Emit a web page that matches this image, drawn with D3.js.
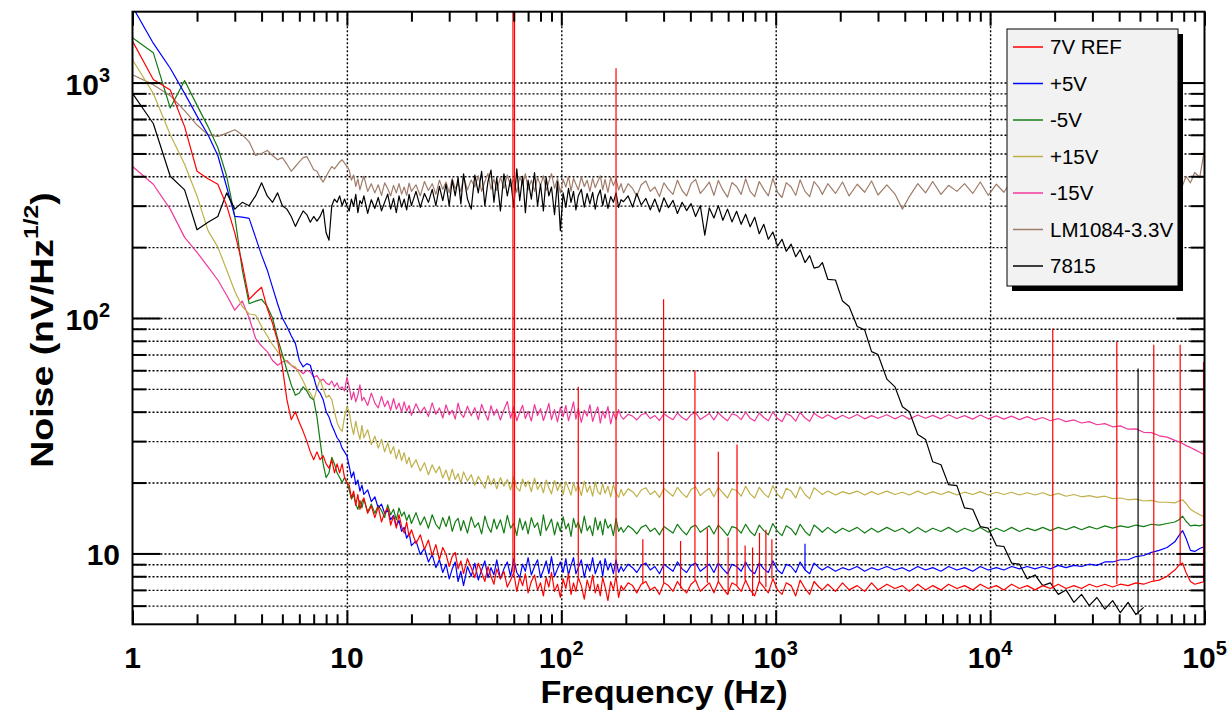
<!DOCTYPE html>
<html lang="en">
<head>
<meta charset="UTF-8">
<title>Supply noise spectra</title>
<style>
  body { margin: 0; background: #fff; }
  svg { display: block; font-family: "Liberation Sans", Arial, sans-serif; }
  .grid line { stroke: #000; stroke-width: 1.4; stroke-dasharray: 2, 2; }
  .grid path { display: none; }
  .ticks line { stroke: #000; stroke-width: 2; }
  .ticks path { display: none; }
  .trace { fill: none; stroke-width: 1.2; stroke-linejoin: round; }
  .lab { font-weight: bold; fill: #000; }
</style>
</head>
<body>
<script src="https://d3js.org/d3.v7.min.js"></script>
<script>
// frequency grid (Hz): 1-10, 10-190, 190-1600, 1600-1e5
const freqHz = [
  1, 1.25, 1.5, 1.75, 2, 2.25, 2.5, 2.75, 3, 3.25, 3.5, 3.75, 4, 4.25, 4.5, 4.75, 5, 5.25, 5.5, 5.75,
  6, 6.25, 6.5, 6.75, 7, 7.25, 7.5, 7.75, 8, 8.25, 8.5, 8.75, 9, 9.25, 9.5, 9.75, 10,
  10.25, 10.5, 10.75, 11, 11.25, 11.5, 11.75, 12, 12.5, 13,
  13.5, 14, 14.5, 15, 15.5, 16, 16.5, 17, 17.5, 18,
  18.5, 19, 19.5, 20, 21, 22, 23, 24, 25, 26,
  27, 28, 29, 30, 31, 32, 33, 34, 35, 36.5,
  38, 39.5, 41, 42.5, 44, 45.5, 47, 48.5, 50, 52,
  54, 56, 58, 60, 62, 64, 66, 68, 70, 72.5,
  75, 77.5, 80, 82.5, 85, 87.5, 90, 93, 96, 99,
  102, 105, 108, 111, 114, 117, 120, 124, 128, 132,
  136, 140, 144, 148, 152, 156, 160, 165, 170, 175,
  180, 185, 190,
  195, 205, 215, 225, 236, 248, 260, 273, 287, 301,
  316, 332, 348, 366, 384, 403, 423, 445, 467, 490,
  515, 540, 567, 596, 625, 657, 690, 724, 760, 798,
  838, 880, 924, 970, 1020, 1070, 1120, 1180, 1240, 1300,
  1370, 1440, 1510, 1590,
  1650, 1750, 1900, 2050, 2200, 2400, 2600, 2800, 3000, 3300, 3600, 3900, 4200, 4600, 5000, 5400, 5900, 6400, 7000, 7600,
  8300, 9000, 9800, 10700, 11600, 12600, 13700, 14900, 16200, 17600, 19100, 20800, 22600, 24600, 26700, 29000, 31500, 34300, 37300, 40500,
  44000, 47900, 52000, 56600, 61500, 66900, 72700, 76000, 79000, 82000, 86000, 90000, 95000, 100000
];

// noise values, nV/sqrt(Hz)
const ref7V = [
  1500, 1030, 930, 650, 420, 390, 370, 300, 230, 170, 120, 128, 135, 110, 95, 80, 62, 45, 37, 40,
  36, 33, 30, 27, 25, 27, 25, 26, 24, 23, 25, 22, 24, 22, 24, 21, 20,
  19.5, 17.2, 18.4, 16.0, 17.8, 15.4, 16.6, 17.2, 14.8, 15.9,
  14.2, 15.8, 13.6, 14.9, 15.6, 13.2, 14.4, 12.8, 14.6, 13.0,
  12.2, 13.6, 11.8, 12.6, 11.0, 12.0, 10.4, 11.4, 9.8, 10.9,
  9.4, 10.6, 9.9, 8.8, 9.7, 10.1, 8.6, 9.3, 8.2, 9.5,
  8.7, 7.9, 9.1, 8.3, 7.6, 8.8, 8.0, 7.4, 8.6, 7.8,
  8.4, 7.2, 7.7, 8.3, 6.9, 7.9, 7.3, 8.2, 6.8, 7.6,
  8.1, 7.0, 7.5, 6.6, 7.9, 7.2, 8.3, 6.9, 7.4, 6.5,
  7.8, 7.1, 8.2, 6.7, 7.5, 6.9, 7.9, 7.3, 6.4, 7.7,
  7.0, 8.1, 6.8, 7.4, 6.6, 7.9, 7.2, 6.3, 7.6, 7.0,
  8.0, 6.5, 7.3,
  7.0, 7.5, 7.3, 6.8, 7.4, 7.6, 7.0, 7.2, 6.7, 7.5,
  7.3, 6.9, 7.6, 7.1, 6.8, 7.4, 7.7, 6.9, 7.2, 7.5,
  6.8, 7.6, 7.1, 6.7, 7.5, 7.3, 6.9, 7.7, 7.0, 6.6,
  7.6, 7.2, 6.8, 7.8, 7.0, 6.7, 7.5, 7.3, 6.6, 7.7,
  7.1, 6.7, 7.6, 7.2,
  7.0, 7.4, 6.9, 7.5, 7.0, 7.3, 6.9, 7.5, 7.0, 7.4, 7.1, 7.3, 6.9, 7.4, 7.0, 7.3, 7.0, 7.4, 7.1, 7.3,
  7.0, 7.4, 7.1, 7.3, 7.0, 7.4, 7.1, 7.3, 7.0, 7.3, 7.1, 7.4, 7.1, 7.3, 7.1, 7.4, 7.2, 7.4, 7.2, 7.4,
  7.3, 7.5, 7.4, 7.6, 7.7, 8.0, 8.5, 8.9, 9.1, 8.3, 7.6, 7.4, 7.5, 7.6
];
const pos5V = [
  2100, 1470, 1150, 900, 720, 600, 490, 360, 270, 268, 265, 220, 185, 160, 135, 115, 100, 92, 84, 78,
  66, 62, 64, 63, 56, 50, 48, 45, 40, 38, 35, 33, 31, 30, 28, 27, 26,
  23.5, 21.0, 22.2, 19.6, 20.5, 18.4, 19.5, 17.8, 18.6, 16.6,
  17.4, 15.6, 16.2, 14.8, 15.3, 13.9, 14.5, 13.1, 13.8, 12.4,
  12.9, 11.6, 12.2, 10.8, 11.3, 9.9, 10.5, 9.2, 9.9, 8.7,
  9.4, 8.3, 9.0, 7.8, 8.6, 9.2, 7.6, 8.4, 7.3, 8.8,
  8.0, 9.1, 7.7, 8.5, 9.3, 7.9, 8.7, 8.1, 9.4, 7.8,
  8.6, 9.2, 8.0, 9.5, 8.3, 7.9, 9.0, 8.4, 9.6, 8.1,
  8.8, 9.4, 7.9, 8.5, 9.3, 8.2, 9.7, 8.0, 8.6, 9.2,
  8.3, 9.5, 8.1, 8.9, 9.6, 8.2, 8.7, 9.4, 7.9, 9.0,
  8.4, 9.6, 8.2, 8.8, 9.3, 8.0, 9.5, 8.5, 9.1, 8.2,
  9.4, 8.3, 8.8,
  8.4, 9.0, 8.7, 8.3, 8.9, 9.1, 8.5, 8.8, 8.2, 9.0,
  8.7, 8.4, 9.2, 8.6, 8.3, 8.9, 9.1, 8.4, 8.7, 9.0,
  8.3, 9.1, 8.6, 8.2, 9.0, 8.8, 8.4, 9.2, 8.5, 8.2,
  9.1, 8.6, 8.3, 9.3, 8.5, 8.2, 9.0, 8.8, 8.3, 9.2,
  8.5, 8.2, 9.1, 8.7,
  8.5, 8.8, 8.4, 8.7, 8.5, 8.8, 8.4, 8.7, 8.5, 8.8, 8.5, 8.7, 8.4, 8.8, 8.5, 8.7, 8.4, 8.8, 8.5, 8.7,
  8.4, 8.8, 8.5, 8.7, 8.5, 8.8, 8.6, 8.8, 8.6, 8.8, 8.6, 8.9, 8.7, 8.9, 8.8, 9.0, 8.9, 9.2, 9.2, 9.4,
  9.4, 9.7, 9.8, 10.1, 10.3, 10.6, 11.2, 11.9, 12.5, 11.6, 10.3, 10.2, 10.5, 10.7
];
const neg5V = [
  1550, 1340, 780, 1020, 800, 650, 530, 400, 270, 160, 115, 118, 120, 112, 100, 82, 70, 60, 52, 47,
  48, 51, 49, 46, 45, 38, 30, 24, 21, 22, 25.6, 24, 22, 21, 20, 21, 20,
  18.6, 17.0, 17.8, 16.2, 15.4, 16.8, 15.6, 17.0, 15.0, 16.2,
  14.8, 16.0, 15.2, 14.2, 16.1, 14.6, 15.4, 13.9, 15.6, 14.4,
  15.0, 13.8, 14.6, 13.4, 14.9, 13.2, 14.3, 12.8, 14.6, 13.3,
  12.7, 14.2, 13.0, 14.4, 12.4, 13.6, 14.1, 12.5, 13.8, 12.2,
  14.3, 12.9, 13.5, 12.1, 14.4, 13.0, 12.3, 14.0, 12.7, 13.9,
  12.2, 14.5, 12.8, 13.4, 11.9, 14.1, 12.6, 13.7, 12.1, 14.2,
  12.9, 13.5, 11.9, 14.6, 12.5, 13.2, 14.0, 12.0, 13.6, 12.4,
  14.3, 12.7, 13.4, 11.8, 14.1, 12.9, 13.6, 12.2, 14.4, 12.5,
  13.1, 11.9, 14.2, 12.6, 13.7, 12.0, 14.0, 12.8, 13.3, 11.9,
  14.1, 12.4, 12.9,
  12.3, 13.1, 12.7, 12.1, 12.9, 13.2, 12.4, 12.8, 12.0, 13.0,
  12.6, 12.2, 13.3, 12.5, 12.0, 12.9, 13.2, 12.3, 12.7, 13.1,
  12.1, 13.2, 12.6, 11.9, 13.0, 12.8, 12.2, 13.3, 12.4, 11.9,
  13.2, 12.5, 12.0, 13.4, 12.4, 11.9, 13.1, 12.7, 12.0, 13.3,
  12.4, 11.9, 13.2, 12.7,
  12.3, 12.9, 12.2, 12.8, 12.4, 12.9, 12.2, 12.8, 12.3, 12.9, 12.4, 12.8, 12.2, 12.9, 12.3, 12.8, 12.4, 12.9, 12.3, 12.8,
  12.4, 12.9, 12.3, 12.8, 12.4, 12.9, 12.4, 12.8, 12.5, 12.9, 12.5, 12.9, 12.6, 13.0, 12.6, 13.0, 12.7, 13.1, 12.8, 13.1,
  12.9, 13.2, 13.0, 13.3, 13.2, 13.4, 13.6, 13.9, 14.4, 13.7, 13.1, 13.2, 13.1, 13.3
];
const pos15V = [
  1250, 900, 600, 450, 330, 235, 200, 160, 130, 112, 104, 103, 92, 84, 77, 72, 68, 65, 63, 62,
  58, 54, 50, 48, 45, 50, 55, 50, 46, 47, 45, 40, 36, 34, 33, 38, 42,
  40, 35, 32, 36.5, 33, 30.5, 35, 31, 33.5, 29,
  31.5, 28, 30.5, 27, 29.5, 26.5, 28.5, 25.2, 27.6, 24.8,
  26.8, 24.0, 25.6, 23.2, 25.0, 22.4, 24.3, 21.6, 23.8, 22.0,
  23.4, 20.9, 22.6, 20.4, 22.8, 20.6, 21.8, 19.9, 22.2, 20.3,
  21.6, 19.5, 21.2, 20.1, 18.9, 21.4, 19.6, 20.8, 18.8, 21.0,
  19.3, 20.6, 18.6, 21.2, 19.0, 18.4, 20.7, 19.2, 20.3, 18.3,
  20.9, 18.7, 19.8, 18.1, 20.5, 19.0, 17.9, 20.4, 18.5, 19.9,
  17.8, 20.2, 18.9, 17.7, 20.0, 18.4, 19.6, 17.6, 20.3, 18.2,
  19.4, 17.5, 20.1, 18.3, 17.8, 19.8, 18.0, 19.3, 17.4, 19.6,
  18.1, 17.3, 18.7,
  17.6, 18.8, 18.3, 17.4, 18.6, 19.0, 17.8, 18.4, 17.3, 18.9,
  18.2, 17.5, 19.1, 18.0, 17.3, 18.7, 19.2, 17.6, 18.3, 18.9,
  17.4, 19.1, 18.1, 17.2, 18.8, 18.5, 17.5, 19.3, 17.9, 17.2,
  19.1, 18.0, 17.3, 19.4, 17.8, 17.1, 18.9, 18.4, 17.2, 19.2,
  17.8, 17.1, 19.0, 18.3,
  17.8, 18.4, 17.7, 18.3, 17.9, 18.4, 17.7, 18.3, 17.8, 18.4, 17.8, 18.2, 17.7, 18.4, 17.8, 18.3, 17.8, 18.3, 17.7, 18.2,
  17.8, 18.3, 17.7, 18.2, 17.8, 18.2, 17.7, 18.1, 17.7, 18.1, 17.6, 18.0, 17.5, 17.8, 17.4, 17.6, 17.3, 17.5, 17.1, 17.2,
  16.9, 17.0, 16.7, 16.8, 16.5, 16.5, 16.4, 16.7, 16.9, 16.3, 15.4, 15.0, 14.6, 14.3
];
const neg15V = [
  440, 370, 290, 220, 190, 165, 145, 125, 108, 118, 100, 82, 76, 72, 66, 63, 65, 66, 63, 61,
  60, 58, 60, 59, 56, 57, 54, 55, 53, 52, 54, 51, 53, 50, 51, 49, 56,
  51, 45, 48.5, 44, 47, 52, 44.5, 46, 42.5, 48,
  43.5, 41.5, 46.5, 42.0, 44.5, 40.5, 45.5, 41.0, 43.5, 39.8,
  44.0, 40.2, 42.5, 38.6, 43.2, 39.5, 41.8, 38.2, 43.6, 39.0,
  41.5, 37.6, 42.8, 38.8, 40.6, 37.2, 43.5, 39.2, 37.8, 42.2,
  38.4, 41.6, 37.0, 43.0, 39.5, 36.8, 42.4, 38.6, 41.0, 36.9,
  40.8, 44.2, 37.5, 41.9, 36.6, 39.8, 42.6, 37.4, 40.2, 36.5,
  42.9, 38.5, 41.2, 36.7, 39.6, 43.4, 37.0, 40.8, 36.2, 41.7,
  38.1, 42.5, 36.6, 39.9, 44.0, 37.2, 41.3, 36.0, 40.6, 38.3,
  42.8, 36.4, 39.4, 41.9, 35.8, 40.2, 37.6, 42.0, 35.5, 39.6,
  37.0, 40.8, 38.2,
  37.2, 39.0, 38.3, 36.9, 38.8, 39.4, 37.4, 38.5, 36.7, 39.2,
  38.0, 37.0, 39.5, 37.8, 36.8, 38.9, 39.6, 37.1, 38.2, 39.3,
  36.9, 39.6, 37.9, 36.6, 39.2, 38.6, 37.0, 39.8, 37.5, 36.5,
  39.5, 37.8, 36.6, 39.9, 37.4, 36.3, 39.3, 38.4, 36.5, 39.7,
  37.6, 36.4, 39.4, 38.1,
  37.5, 38.8, 37.2, 38.6, 37.4, 38.9, 37.3, 38.5, 37.5, 38.8, 37.3, 38.6, 37.2, 38.7, 37.5, 38.6, 37.3, 38.8, 37.4, 38.5,
  37.2, 38.7, 37.3, 38.4, 37.2, 38.3, 37.0, 38.1, 36.9, 37.8, 36.6, 37.4, 36.3, 36.9, 35.8, 36.3, 35.2, 35.6, 34.5, 34.8,
  33.7, 33.8, 32.7, 32.6, 31.6, 31.2, 30.2, 29.8, 29.3, 28.7, 28.2, 27.6, 26.9, 26.2
];
const lm1084 = [
  1080, 980, 880, 760, 660, 600, 590, 610, 630, 600, 560, 490, 500, 515, 490, 470, 480, 450, 420, 440,
  460, 480, 485, 455, 426, 420, 395, 378, 400, 420, 440, 430, 445, 460, 470, 455, 440,
  425, 385, 405, 362, 390, 350, 378, 400, 345, 372,
  340, 368, 332, 375, 355, 330, 366, 340, 372, 336,
  360, 332, 374, 345, 368, 330, 380, 348, 372, 335,
  385, 352, 378, 340, 392, 355, 372, 345, 398, 350,
  386, 360, 402, 345, 380, 410, 352, 390, 348, 396,
  355, 405, 362, 388, 342, 398, 370, 410, 350, 385,
  345, 395, 365, 402, 348, 380, 410, 355, 392, 340,
  388, 360, 400, 346, 392, 370, 350, 398, 362, 385,
  345, 392, 358, 380, 402, 350, 388, 342, 396, 365,
  390, 350, 372,
  340, 372, 355, 330, 368, 382, 345, 360, 328, 375,
  352, 335, 385, 348, 330, 372, 388, 338, 356, 378,
  332, 384, 350, 326, 376, 362, 335, 390, 345, 328,
  380, 352, 330, 392, 342, 325, 376, 360, 332, 386,
  345, 328, 380, 358,
  335, 372, 338, 378, 330, 370, 342, 382, 333, 368, 336, 290, 328, 372, 340, 380, 335, 366, 345, 372,
  338, 378, 332, 370, 342, 385, 336, 368, 330, 375, 340, 382, 335, 370, 338, 378, 332, 372, 345, 386,
  338, 376, 342, 380, 350, 388, 355, 392, 365, 400, 375, 415, 395, 520
];
const reg7815 = [
  900, 670, 400, 350, 237, 255, 270, 340, 290, 310, 300, 330, 375, 330, 310, 340, 300, 290, 270, 245,
  265, 285, 275, 255, 270, 258, 270, 290, 230, 214, 300, 320, 310, 330, 300, 320, 300,
  285, 320, 298, 335, 280, 315, 305, 330, 278, 318,
  292, 325, 285, 310, 336, 290, 322, 280, 330, 296,
  320, 288, 335, 300, 345, 295, 338, 310, 352, 300,
  362, 315, 370, 300, 385, 330, 395, 305, 410, 320,
  290, 405, 340, 420, 300, 380, 425, 310, 395, 285,
  410, 330, 390, 295, 430, 315, 400, 280, 385, 320,
  415, 300, 370, 285, 395, 330, 360, 275, 380, 235,
  340, 295, 355, 310, 345, 288, 330, 352, 296, 338,
  305, 342, 290, 330, 350, 300, 336, 292, 328, 310,
  340, 295, 318,
  312, 330, 296, 338, 302, 322, 288, 320, 282, 324,
  294, 316, 278, 310, 286, 306, 270, 300, 225, 294,
  266, 300, 260, 290, 256, 284, 250, 276, 244, 268,
  228, 250, 216, 232, 202, 216, 192, 206, 182, 195,
  172, 184, 163, 165,
  172, 146, 145, 118, 112, 92, 89, 72, 70, 55, 51, 42, 40, 32, 30.5, 24.5, 23.8, 19.6, 19.4, 15.6,
  15.4, 13.0, 12.8, 10.8, 10.7, 9.1, 9.0, 7.8, 8.1, 7.3, 7.5, 6.7, 7.0, 6.2, 6.7, 6.0, 6.5, 5.8, 6.3, 5.6,
  6.2, 5.5, 5.9, null, null, null, null, null, null, null, null, null, null, null
];

// narrow lines (pickup harmonics): frequency, peak value
const refSpikeHz = [59.5, 60.5, 120, 180, 240, 300, 360, 420, 480, 540, 600, 660, 720, 780, 840, 900, 960, 19600, 39000, 58000, 77000, 99000];
const refSpikeTop = [3000, 3000, 51, 1150, 11.5, 120, 11.3, 60, 12.8, 27, 11.7, 29, 10.8, 10.6, 12.2, 12.6, 11.5, 90, 79, 77, 77, 65];
const pos5SpikeHz = [1370];
const pos5SpikeTop = [11];
const reg7815SpikeHz = [49000];
const reg7815SpikeTop = [61];

const legendNames = ['7V REF', '+5V', '-5V', '+15V', '-15V', 'LM1084-3.3V', '7815'];

const xMajor = [1, 10, 100, 1000, 10000, 100000];
const yMajor = [10, 100, 1000];
const yMinor = [6, 7, 8, 9, 20, 30, 40, 50, 60, 70, 80, 90, 200, 300, 400, 500, 600, 700, 800, 900];

// ---------------------------------------------------------------
const W = 1227, H = 722;
const L = 132.5, R = 1204.5, T = 11.7, B = 624.3;

const xScale = d3.scaleLog().domain([1, 1e5]).range([L, R]);
const yScale = d3.scaleLog().domain([5, 2000]).range([B, T]);

const xMinor = [];
xMajor.slice(0, -1).forEach((d) => {
    for (let k = 2; k <= 9; k++) xMinor.push(d * k);
});

const svg = d3.select('body').append('svg').attr('width', W).attr('height', H);

svg.append('defs').append('clipPath').attr('id', 'plot')
    .append('rect').attr('x', L).attr('y', T).attr('width', R - L).attr('height', B - T);

// grid
svg.append('g').attr('class', 'grid')
    .attr('transform', `translate(0,${B})`)
    .call(d3.axisBottom(xScale).tickValues(xMajor.slice(1, -1)).tickSize(-(B - T)).tickFormat(''));
svg.append('g').attr('class', 'grid')
    .attr('transform', `translate(${L},0)`)
    .call(d3.axisLeft(yScale).tickValues(yMajor.concat(yMinor)).tickSize(-(R - L)).tickFormat(''));

// traces, drawn back to front
const series = [
    { vals: lm1084, color: '#a07c6a' },
    { vals: neg15V, color: '#f0399b' },
    { vals: pos15V, color: '#bfb04a' },
    { vals: neg5V, color: '#147c14' },
    { vals: pos5V, color: '#0000ff', spikeHz: pos5SpikeHz, spikeTop: pos5SpikeTop },
    { vals: reg7815, color: '#000000', spikeHz: reg7815SpikeHz, spikeTop: reg7815SpikeTop },
    { vals: ref7V, color: '#ff0000', spikeHz: refSpikeHz, spikeTop: refSpikeTop }
];

const line = d3.line()
    .defined((d) => d[1] != null)
    .x((d) => xScale(d[0]))
    .y((d) => yScale(d[1]));

const traces = svg.append('g').attr('clip-path', 'url(#plot)');
const bis = d3.bisector((d) => d[0]).center;

series.forEach((s) => {
    const pts = freqHz.map((f, i) => [f, s.vals[i]]);
    traces.append('path').datum(pts).attr('class', 'trace')
        .attr('stroke', s.color).attr('d', line);
    if (!s.spikeHz) return;
    s.spikeHz.forEach((f, i) => {
        const base = pts[bis(pts, f)][1];
        traces.append('path').datum([[f, base], [f, s.spikeTop[i]]])
            .attr('class', 'trace').attr('stroke', s.color).attr('stroke-width', 1.6)
            .attr('d', line);
    });
});

// ticks on all four sides, pointing inwards
const tick = (axis, tr, vals, size) => {
    svg.append('g').attr('class', 'ticks').attr('transform', tr)
        .call(axis.tickValues(vals).tickSize(-size).tickFormat(''));
};
tick(d3.axisBottom(xScale), `translate(0,${B})`, xMajor, 14);
tick(d3.axisBottom(xScale), `translate(0,${B})`, xMinor, 10);
tick(d3.axisTop(xScale), `translate(0,${T})`, xMajor, 14);
tick(d3.axisTop(xScale), `translate(0,${T})`, xMinor, 10);
tick(d3.axisLeft(yScale), `translate(${L},0)`, yMajor, 28);
tick(d3.axisLeft(yScale), `translate(${L},0)`, yMinor, 14);
tick(d3.axisRight(yScale), `translate(${R},0)`, yMajor, 28);
tick(d3.axisRight(yScale), `translate(${R},0)`, yMinor, 14);

svg.append('rect').attr('x', L).attr('y', T).attr('width', R - L).attr('height', B - T)
    .attr('fill', 'none').attr('stroke', '#000').attr('stroke-width', 2);

// tick labels
const powLabel = (sel, d) => {
    const e = Math.round(Math.log10(d));
    if (e <= 1) { sel.text(String(d)); return; }
    sel.append('tspan').text('10');
    sel.append('tspan').attr('dy', -13).attr('font-size', 20).text(e);
};
xMajor.forEach((d) => {
    const t = svg.append('text').attr('class', 'lab').attr('font-size', 30)
        .attr('x', xScale(d)).attr('y', B + 44).attr('text-anchor', 'middle');
    powLabel(t, d);
});
yMajor.forEach((d) => {
    const t = svg.append('text').attr('class', 'lab').attr('font-size', 30)
        .attr('x', d === 10 ? 120 : 110).attr('y', yScale(d) + 12).attr('text-anchor', 'end');
    powLabel(t, d);
});

// axis titles
svg.append('text').attr('class', 'lab').attr('font-size', 32)
    .attr('transform', 'translate(664,703) scale(1.07,1)').attr('text-anchor', 'middle')
    .text('Frequency (Hz)');

const yt = svg.append('text').attr('class', 'lab').attr('font-size', 32)
    .attr('transform', 'translate(53,330) rotate(-90) scale(1.17,1)').attr('text-anchor', 'middle');
yt.append('tspan').text('Noise (nV/Hz');
yt.append('tspan').attr('dy', -15).attr('font-size', 21).text('1/2');
yt.append('tspan').attr('dy', 15).text(')');

// legend
const legendColors = ['#ff0000', '#0000ff', '#147c14', '#bfb04a', '#f0399b', '#a07c6a', '#000000'];
const lg = svg.append('g');
lg.append('rect').attr('x', 1012).attr('y', 34).attr('width', 171).attr('height', 257).attr('fill', '#000');
lg.append('rect').attr('x', 1007).attr('y', 29).attr('width', 171).attr('height', 257)
    .attr('fill', '#f2f2f2').attr('stroke', '#000').attr('stroke-width', 1);
legendNames.forEach((name, i) => {
    const yy = 47 + i * 36.5;
    lg.append('line').attr('x1', 1013).attr('x2', 1043).attr('y1', yy).attr('y2', yy)
        .attr('stroke', legendColors[i]).attr('stroke-width', 1.5);
    lg.append('text').attr('x', 1050).attr('y', yy + 7).attr('font-size', 20.5).attr('fill', '#000')
        .text(name);
});
</script>
</body>
</html>
